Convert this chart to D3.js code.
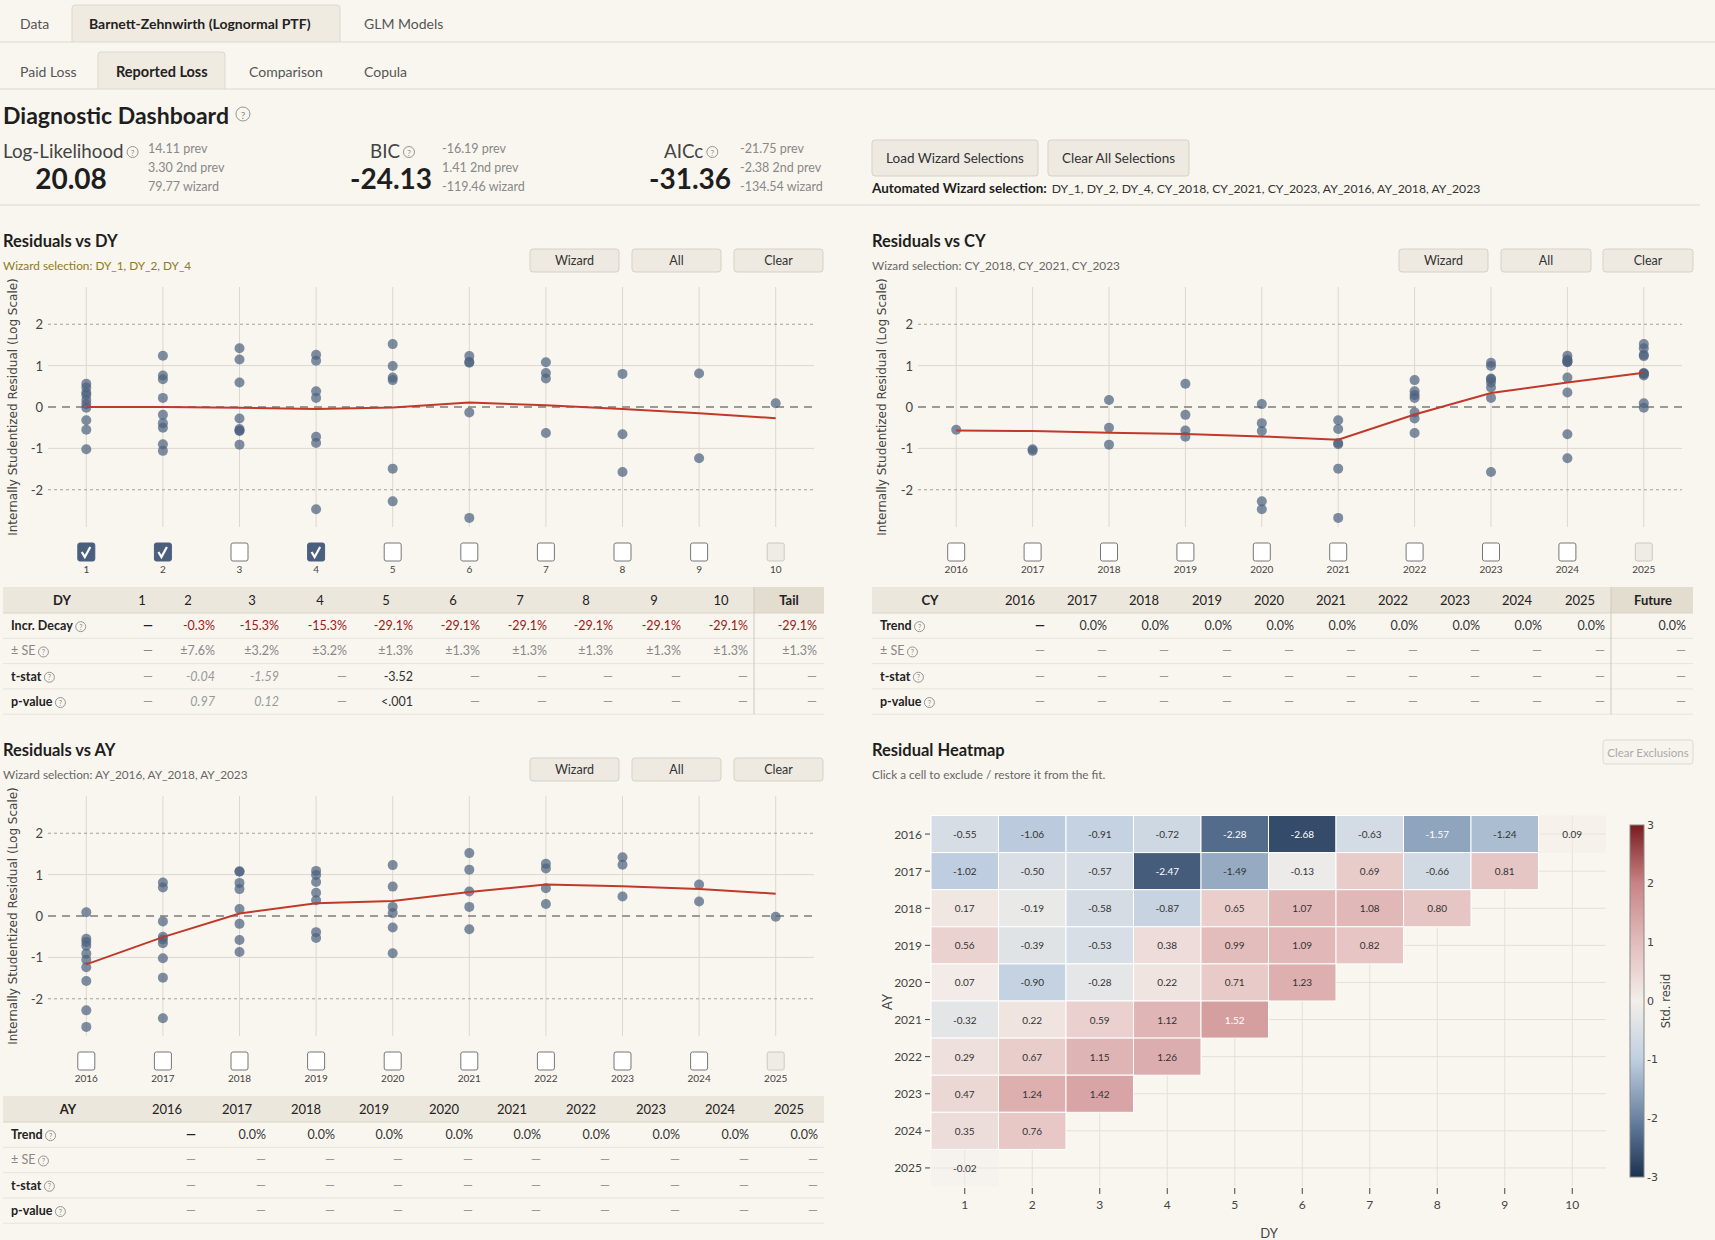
<!DOCTYPE html>
<html><head><meta charset="utf-8">
<script src="https://cdn.jsdelivr.net/npm/d3@7"></script>
<style>
html,body{margin:0;padding:0;background:#f9f6ef;}
svg{display:block;font-family:Lato,"Noto Sans",sans-serif;}
</style></head><body>
<svg id="c" width="1715" height="1240"></svg>
<script>
// ---------------- DATA ----------------
const DY_LABELS = [1,2,3,4,5,6,7,8,9,10];
const AY_LABELS = [2016,2017,2018,2019,2020,2021,2022,2023,2024,2025];
const CY_LABELS = [2016,2017,2018,2019,2020,2021,2022,2023,2024,2025];
// standardized residuals by AY (rows) x DY (cols)
const resid2016 = [-0.55,-1.06,-0.91,-0.72,-2.28,-2.68,-0.63,-1.57,-1.24,0.09];
const resid2017 = [-1.02,-0.50,-0.57,-2.47,-1.49,-0.13,0.69,-0.66,0.81];
const resid2018 = [0.17,-0.19,-0.58,-0.87,0.65,1.07,1.08,0.80];
const resid2019 = [0.56,-0.39,-0.53,0.38,0.99,1.09,0.82];
const resid2020 = [0.07,-0.90,-0.28,0.22,0.71,1.23];
const resid2021 = [-0.32,0.22,0.59,1.12,1.52];
const resid2022 = [0.29,0.67,1.15,1.26];
const resid2023 = [0.47,1.24,1.42];
const resid2024 = [0.35,0.76];
const resid2025 = [-0.02];
const residuals = [resid2016,resid2017,resid2018,resid2019,resid2020,resid2021,resid2022,resid2023,resid2024,resid2025];
// cells shown faint in heatmap (AY, DY)
const faintCells = [[2016,10],[2025,1]];
// smoothed trend lines (red)
const dyTrend = [0.00,0.00,-0.02,-0.05,-0.01,0.11,0.04,-0.05,-0.15,-0.27];
const cyTrend = [-0.57,-0.58,-0.62,-0.65,-0.71,-0.79,-0.18,0.34,0.59,0.83];
const ayTrend = [-1.17,-0.51,0.06,0.31,0.36,0.58,0.76,0.72,0.65,0.54];
const dyChecked = [1,2,4];
const cyChecked = [];
const ayChecked = [];
const yTicks = [-2,-1,0,1,2];
// metrics
const metricNames = ["Log-Likelihood","BIC","AICc"];
const metricValues = ["20.08","-24.13","-31.36"];
const metricPrev = [["14.11 prev","3.30 2nd prev","79.77 wizard"],["-16.19 prev","1.41 2nd prev","-119.46 wizard"],["-21.75 prev","-2.38 2nd prev","-134.54 wizard"]];
// DY table
const dyHeader = ["1","2","3","4","5","6","7","8","9","10","Tail"];
const dyDecay = ["—","-0.3%","-15.3%","-15.3%","-29.1%","-29.1%","-29.1%","-29.1%","-29.1%","-29.1%","-29.1%"];
const dySE = ["—","±7.6%","±3.2%","±3.2%","±1.3%","±1.3%","±1.3%","±1.3%","±1.3%","±1.3%","±1.3%"];
const dyTstat = ["—","-0.04","-1.59","—","-3.52","—","—","—","—","—","—"];
const dyPval = ["—","0.97","0.12","—","<.001","—","—","—","—","—","—"];
// CY table
const cyHeader = ["2016","2017","2018","2019","2020","2021","2022","2023","2024","2025","Future"];
const cyTrendRow = ["—","0.0%","0.0%","0.0%","0.0%","0.0%","0.0%","0.0%","0.0%","0.0%","0.0%"];
const cyBlank = ["—","—","—","—","—","—","—","—","—","—","—"];
// AY table
const ayHeader = ["2016","2017","2018","2019","2020","2021","2022","2023","2024","2025"];
const ayTrendRow = ["—","0.0%","0.0%","0.0%","0.0%","0.0%","0.0%","0.0%","0.0%","0.0%"];
const ayBlank = ["—","—","—","—","—","—","—","—","—","—"];
const colorStops = [-3,-2,-1,0,1,2,3];
const colorbarTicks = [3,2,1,0,-1,-2,-3];

// ---------------- HELPERS ----------------
const svg = d3.select("#c");
const BG = "#f9f6ef";
svg.append("rect").attr("width",1715).attr("height",1240).attr("fill",BG);

function txt(g,x,y,s,o={}){
  const t=g.append("text").attr("x",x).attr("y",y).text(s)
    .attr("font-size",o.size||13).attr("fill",o.fill||"#333")
    .attr("font-weight",o.weight||"normal").attr("text-anchor",o.anchor||"start")
    .attr("dominant-baseline","central");
  if(o.italic) t.attr("font-style","italic");
  if(o.family) t.attr("font-family",o.family);
  return t;
}
function help(g,cx,cy,r){
  r=r||5.5;
  g.append("circle").attr("cx",cx).attr("cy",cy).attr("r",r).attr("fill","none").attr("stroke","#8a8a8a").attr("stroke-width",0.9);
  txt(g,cx,cy+0.5,"?",{size:r*1.45,fill:"#8a8a8a",anchor:"middle"});
}
function button(g,x0,x1,y0,y1,label,disabled,size){
  g.append("rect").attr("x",x0).attr("y",y0).attr("width",x1-x0).attr("height",y1-y0).attr("rx",3)
   .attr("fill",disabled?"#f7f4ed":"#eeeae2").attr("stroke",disabled?"#ddd9d0":"#d6d1c6");
  txt(g,(x0+x1)/2,(y0+y1)/2,label,{size:size||(disabled?11.5:12.5),fill:disabled?"#aaa":"#333",anchor:"middle"});
}

// ---------------- TABS ----------------
const hdr = svg.append("g");
hdr.append("path").attr("d","M72,42 L72,8 Q72,5 75,5 L337,5 Q340,5 340,8 L340,42").attr("fill","#f0ebe1").attr("stroke","#ddd8cc");
hdr.append("line").attr("x1",0).attr("x2",1715).attr("y1",42).attr("y2",42).attr("stroke","#ddd8cc");
txt(hdr,20,23,"Data",{size:14,fill:"#555"});
txt(hdr,89,23,"Barnett-Zehnwirth (Lognormal PTF)",{size:14,weight:"bold",fill:"#222"});
txt(hdr,364,23,"GLM Models",{size:14,fill:"#555"});
hdr.append("path").attr("d","M98,89 L98,55 Q98,52 101,52 L222,52 Q225,52 225,55 L225,89").attr("fill","#f0ebe1").attr("stroke","#ddd8cc");
hdr.append("line").attr("x1",0).attr("x2",1715).attr("y1",89).attr("y2",89).attr("stroke","#ddd8cc");
txt(hdr,20,71,"Paid Loss",{size:14,fill:"#555"});
txt(hdr,116,71,"Reported Loss",{size:14.5,weight:"bold",fill:"#222"});
txt(hdr,249,71,"Comparison",{size:14,fill:"#555"});
txt(hdr,364,71,"Copula",{size:14,fill:"#555"});

// title
const tt = txt(hdr,3,115,"Diagnostic Dashboard",{size:23,weight:"bold",fill:"#1e1e1e"});
help(hdr,3+tt.node().getComputedTextLength()+14,114,7);

// metrics
const mLabelX = [3,370,664];
const mValueCx = [71,391,690];
const mSideX = [148,442,740];
metricNames.forEach((n,i)=>{
  const l = txt(hdr,mLabelX[i],150,n,{size:18.8,fill:"#444"});
  help(hdr,mLabelX[i]+l.node().getComputedTextLength()+9,152,5.5);
  txt(hdr,mValueCx[i],178,metricValues[i],{size:28,weight:"bold",fill:"#1e1e1e",anchor:"middle"});
  metricPrev[i].forEach((s,k)=>txt(hdr,mSideX[i],148+k*19,s,{size:12.5,fill:"#888"}));
});
button(hdr,872,1038,140,176,"Load Wizard Selections",false,13.5);
button(hdr,1048,1189,140,176,"Clear All Selections",false,13.5);
const aw = txt(hdr,872,188,"Automated Wizard selection:",{size:13.5,weight:"bold",fill:"#1e1e1e"});
txt(hdr,872+aw.node().getComputedTextLength()+5,188,"DY_1, DY_2, DY_4, CY_2018, CY_2021, CY_2023, AY_2016, AY_2018, AY_2023",{size:12.2,fill:"#333"});
hdr.append("line").attr("x1",0).attr("x2",1700).attr("y1",205).attr("y2",205).attr("stroke","#ddd8cc");

// ---------------- PANEL HEADERS ----------------
function panelHeader(x,yT,title,sub,subColor,btnX){
  txt(svg,x,yT,title,{size:16.5,weight:"bold",fill:"#1e1e1e"});
  txt(svg,x,yT+24,sub,{size:11.8,fill:subColor});
  if(btnX){
    const labels=["Wizard","All","Clear"];
    btnX.forEach((bx,i)=>button(svg,bx[0],bx[1],yT+8,yT+31,labels[i]));
  }
}
panelHeader(3,241,"Residuals vs DY","Wizard selection: DY_1, DY_2, DY_4","#8f7a22",[[530,619],[632,721],[734,823]]);
panelHeader(872,241,"Residuals vs CY","Wizard selection: CY_2018, CY_2021, CY_2023","#666",[[1399,1488],[1501,1591],[1603,1693]]);
panelHeader(3,750,"Residuals vs AY","Wizard selection: AY_2016, AY_2018, AY_2023","#666",[[530,619],[632,721],[734,823]]);
panelHeader(872,750,"Residual Heatmap","Click a cell to exclude / restore it from the fit.","#666",null);
button(svg,1603,1693,740,764,"Clear Exclusions",true);

// ---------------- SCATTER PLOTS ----------------
function pointsBy(kind){
  const pts=[];
  residuals.forEach((row,i)=>row.forEach((v,j)=>{
    const ay=AY_LABELS[i], dy=DY_LABELS[j];
    const key = kind==="DY"?dy:(kind==="AY"?ay:ay+dy-1);
    pts.push({k:key,v:v});
  }));
  return pts;
}
function scatter(o){
  const g=svg.append("g");
  const x=d3.scalePoint().domain(o.cats).range(o.xr).padding(0.5);
  const y=d3.scaleLinear().domain([-2.9,2.9]).range(o.yr);
  g.selectAll(".vg").data(o.cats).join("line").attr("x1",d=>x(d)).attr("x2",d=>x(d))
    .attr("y1",o.yr[1]).attr("y2",o.yr[0]).attr("stroke","#dcd8cf").attr("stroke-width",1);
  g.selectAll(".hg").data(yTicks).join("line").attr("x1",o.xr[0]).attr("x2",o.xr[1])
    .attr("y1",d=>y(d)).attr("y2",d=>y(d))
    .attr("stroke",d=>d===0?"#9a9a96":(Math.abs(d)===2?"#a3a19c":"#dcd8cf"))
    .attr("stroke-width",d=>d===0?2:1)
    .attr("stroke-dasharray",d=>d===0?"8,6":(Math.abs(d)===2?"3,3":null));
  g.selectAll(".yt").data(yTicks).join("text").attr("x",o.xr[0]-5).attr("y",d=>y(d))
    .attr("text-anchor","end").attr("dominant-baseline","central").attr("font-size",13).attr("fill","#444")
    .text(d=>d);
  g.append("text").attr("transform",`translate(${o.titleX},${(o.yr[0]+o.yr[1])/2}) rotate(-90)`)
    .attr("text-anchor","middle").attr("dominant-baseline","central")
    .attr("font-family","DejaVu Sans").attr("font-size",12).attr("fill","#444")
    .text("Internally Studentized Residual (Log Scale)");
  g.selectAll(".pt").data(o.points).join("circle").attr("cx",d=>x(d.k)).attr("cy",d=>y(d.v))
    .attr("r",5).attr("fill","#4d6280").attr("fill-opacity",0.72);
  const line=d3.line().x((d,i)=>x(o.cats[i])).y(d=>y(d));
  g.append("path").attr("d",line(o.trend)).attr("fill","none").attr("stroke","#c0392b").attr("stroke-width",2);
  // checkboxes
  o.cats.forEach((c,i)=>{
    const cx=x(c);
    const last = i===o.cats.length-1;
    const chk = o.checked.includes(c);
    g.append("rect").attr("x",cx-8.5).attr("y",o.boxY).attr("width",17).attr("height",18).attr("rx",2)
      .attr("fill",last?"#efece5":(chk?"#4a5f7e":"#fff")).attr("stroke",last?"#ccc8bf":(chk?"#4a5f7e":"#777")).attr("stroke-width",1);
    if(chk){
      g.append("path").attr("d",`M${cx-4.5},${o.boxY+9} L${cx-1.5},${o.boxY+14} L${cx+4},${o.boxY+4}`)
        .attr("fill","none").attr("stroke","#fff").attr("stroke-width",2.2);
    }
    txt(g,cx,o.boxY+26,c,{size:10,fill:"#444",anchor:"middle"});
  });
}
scatter({cats:DY_LABELS,xr:[48,814],yr:[527,287],points:pointsBy("DY"),trend:dyTrend,checked:dyChecked,boxY:543,titleX:13});
scatter({cats:CY_LABELS,xr:[918,1682],yr:[527,287],points:pointsBy("CY"),trend:cyTrend,checked:cyChecked,boxY:543,titleX:882});
scatter({cats:AY_LABELS,xr:[48,814],yr:[1036,796],points:pointsBy("AY"),trend:ayTrend,checked:ayChecked,boxY:1052,titleX:13});

// ---------------- TABLES ----------------
function table(o){
  const g=svg.append("g");
  const yH=o.yTop, hH=26, rH=25.3;
  g.append("rect").attr("x",o.x0).attr("y",yH).attr("width",o.x1-o.x0).attr("height",hH).attr("fill","#ece7dc");
  if(o.sepX){
    g.append("rect").attr("x",o.sepX).attr("y",yH).attr("width",o.x1-o.sepX).attr("height",hH).attr("fill","#e3ddd0");
  }
  g.append("line").attr("x1",o.x0).attr("x2",o.x1).attr("y1",yH+hH).attr("y2",yH+hH).attr("stroke","#d9d3c7");
  txt(g,o.labelCx,yH+hH/2,o.labelHeader,{size:13,weight:"bold",fill:"#222",anchor:"middle"});
  o.header.forEach((h,i)=>txt(g,o.centers[i],yH+hH/2,h,{size:13,weight:(o.sepX&&i===o.header.length-1)?"bold":"normal",fill:"#222",anchor:"middle"}));
  o.rows.forEach((r,k)=>{
    const cy=yH+hH+rH*k+rH/2;
    g.append("line").attr("x1",o.x0).attr("x2",o.x1).attr("y1",yH+hH+rH*(k+1)).attr("y2",yH+hH+rH*(k+1)).attr("stroke","#e9e4da");
    const l=txt(g,o.x0+8,cy,r.label,{size:12.5,weight:r.bold?"bold":"normal",fill:r.bold?"#222":"#888"});
    help(g,o.x0+8+l.node().getComputedTextLength()+8,cy+1,5);
    r.cells.forEach((c,i)=>{
      const st=r.style(c,i);
      txt(g,o.rights[i],cy,c,Object.assign({size:12.5,anchor:"end"},st));
    });
  });
  if(o.sepX){
    g.append("line").attr("x1",o.sepX).attr("x2",o.sepX).attr("y1",yH).attr("y2",yH+hH+rH*o.rows.length).attr("stroke","#cfc9bd");
  }
}
const dash = {fill:"#999"};
const dyCenters=[142,188,252,320,386,453,520,586,654,721,789];
const dyRights=dyCenters.map((c,i)=>i===0?153:(i===10?817:c+27));
table({x0:3,x1:824,yTop:587,labelHeader:"DY",labelCx:62,header:dyHeader,centers:dyCenters,rights:dyRights,sepX:754,
  rows:[
    {label:"Incr. Decay",bold:true,cells:dyDecay,style:(c,i)=>i===0?{fill:"#222",weight:"bold"}:{fill:"#a31515"}},
    {label:"± SE",bold:false,cells:dySE,style:(c,i)=>({fill:"#888"})},
    {label:"t-stat",bold:true,cells:dyTstat,style:(c,i)=>c==="—"?dash:(c==="-3.52"?{fill:"#333"}:{fill:"#999",italic:true})},
    {label:"p-value",bold:true,cells:dyPval,style:(c,i)=>c==="—"?dash:(c==="<.001"?{fill:"#333"}:{fill:"#999",italic:true})}
  ]});
const cyCenters=[1020,1082,1144,1207,1269,1331,1393,1455,1517,1580,1653];
const cyRights=cyCenters.map((c,i)=>i===10?1686:c+25);
const trendStyle=(c,i)=>i===0?{fill:"#222",weight:"bold"}:{fill:"#333"};
table({x0:872,x1:1693,yTop:587,labelHeader:"CY",labelCx:930,header:cyHeader,centers:cyCenters,rights:cyRights,sepX:1611,
  rows:[
    {label:"Trend",bold:true,cells:cyTrendRow,style:trendStyle},
    {label:"± SE",bold:false,cells:cyBlank,style:()=>dash},
    {label:"t-stat",bold:true,cells:cyBlank,style:()=>dash},
    {label:"p-value",bold:true,cells:cyBlank,style:()=>dash}
  ]});
const ayCenters=[167,237,306,374,444,512,581,651,720,789];
const ayRights=ayCenters.map(c=>c+29);
table({x0:3,x1:824,yTop:1096,labelHeader:"AY",labelCx:68,header:ayHeader,centers:ayCenters,rights:ayRights,sepX:null,
  rows:[
    {label:"Trend",bold:true,cells:ayTrendRow,style:trendStyle},
    {label:"± SE",bold:false,cells:ayBlank,style:()=>dash},
    {label:"t-stat",bold:true,cells:ayBlank,style:()=>dash},
    {label:"p-value",bold:true,cells:ayBlank,style:()=>dash}
  ]});

// ---------------- HEATMAP ----------------
(function(){
  const g=svg.append("g");
  const hx=d3.scaleBand().domain(DY_LABELS).range([931,1606]);
  const hy=d3.scaleBand().domain(AY_LABELS).range([815.5,1186.5]);
  const color=d3.scaleLinear().domain(colorStops)
    .range(["#1b3150","#6a83a2","#c0cfe0","#f3efea","#e3bcbc","#c98485","#7a1c20"]).clamp(true);
  const bw=hx.bandwidth(), bh=hy.bandwidth();
  g.selectAll(".gv").data(DY_LABELS).join("line").attr("x1",d=>hx(d)+bw/2).attr("x2",d=>hx(d)+bw/2)
    .attr("y1",815.5).attr("y2",1186.5).attr("stroke","#e4e0d8");
  g.selectAll(".gh").data(AY_LABELS).join("line").attr("y1",d=>hy(d)+bh/2).attr("y2",d=>hy(d)+bh/2)
    .attr("x1",931).attr("x2",1606).attr("stroke","#e4e0d8");
  const cells=[];
  residuals.forEach((row,i)=>row.forEach((v,j)=>{
    const ay=AY_LABELS[i], dy=DY_LABELS[j];
    const faint=faintCells.some(f=>f[0]===ay&&f[1]===dy);
    cells.push({ay,dy,v,faint});
  }));
  g.selectAll(".cell").data(cells).join("rect").attr("x",d=>hx(d.dy)).attr("y",d=>hy(d.ay))
    .attr("width",bw).attr("height",bh).attr("fill",d=>color(d.v))
    .attr("fill-opacity",d=>d.faint?0.45:1)
    .attr("stroke",d=>d.faint?"none":"#fff").attr("stroke-width",1);
  g.selectAll(".ct").data(cells).join("text").attr("x",d=>hx(d.dy)+bw/2).attr("y",d=>hy(d.ay)+bh/2)
    .attr("text-anchor","middle").attr("dominant-baseline","central").attr("font-size",10)
    .attr("fill",d=>Math.abs(d.v)>=1.5?"#fff":"#333").text(d=>d.v.toFixed(2));
  // axes
  AY_LABELS.forEach(a=>{
    const cy=hy(a)+bh/2;
    g.append("line").attr("x1",925).attr("x2",930).attr("y1",cy).attr("y2",cy).attr("stroke","#444");
    txt(g,922,cy,a,{size:12,fill:"#444",anchor:"end"});
  });
  DY_LABELS.forEach(d=>{
    const cx=hx(d)+bw/2;
    g.append("line").attr("x1",cx).attr("x2",cx).attr("y1",1188).attr("y2",1194).attr("stroke","#444");
    txt(g,cx,1204,d,{size:12,fill:"#444",anchor:"middle"});
  });
  g.append("text").attr("transform","translate(887,1002) rotate(-90)").attr("text-anchor","middle")
    .attr("dominant-baseline","central").attr("font-size",13).attr("fill","#444").text("AY");
  txt(g,1269,1233,"DY",{size:13,fill:"#444",anchor:"middle"});
  // colorbar
  const defs=svg.append("defs");
  const lg=defs.append("linearGradient").attr("id","cb").attr("x1",0).attr("x2",0).attr("y1",1).attr("y2",0);
  colorStops.forEach(v=>lg.append("stop").attr("offset",(v+3)/6).attr("stop-color",color(v)));
  const cbY=d3.scaleLinear().domain([-3,3]).range([1177,825]);
  g.append("rect").attr("x",1630).attr("y",825).attr("width",14).attr("height",352).attr("fill","url(#cb)").attr("stroke","#888").attr("stroke-width",1);
  colorbarTicks.forEach(t=>txt(g,1647,cbY(t),t,{size:11,fill:"#444",family:"DejaVu Sans"}));
  g.append("text").attr("transform","translate(1666,1001) rotate(-90)").attr("text-anchor","middle")
    .attr("dominant-baseline","central").attr("font-family","DejaVu Sans").attr("font-size",11.5).attr("fill","#444").text("Std. resid");
})();
</script>
</body></html>
